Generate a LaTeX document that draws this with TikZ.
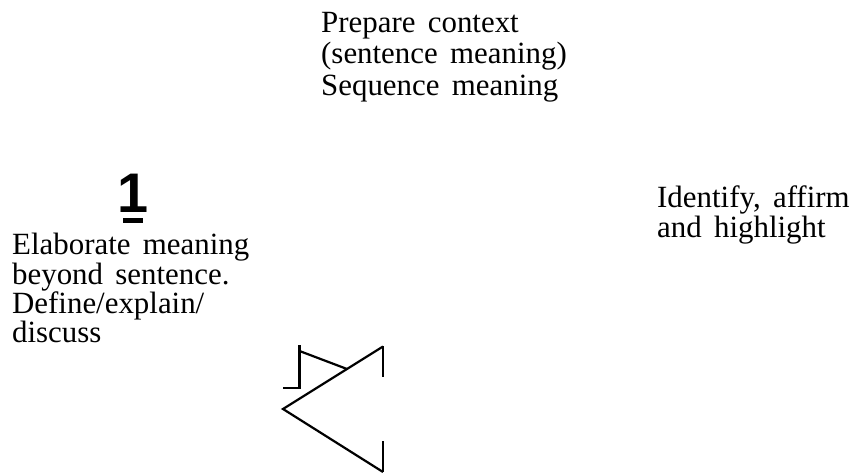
\documentclass[tikz,border=0pt]{standalone}
\usepackage{fontspec}
\usetikzlibrary{calc}
\setmainfont{Liberation Serif}[WordSpace=1.6]
\setsansfont{Liberation Sans}
\begin{document}
\begin{tikzpicture}[x=1bp,y=-1bp,
  txt/.style={anchor=base west, inner sep=0pt, font=\fontsize{31}{31}\selectfont},
  numlabel/.style={anchor=base, inner sep=0pt, font=\fontsize{56}{56}\selectfont\sffamily\bfseries},
  stroke/.style={line width=2.2bp, line cap=butt, line join=miter}]
\useasboundingbox (0,0) rectangle (855,475);
% top block
\node[txt] (t1) at (321,33) {Prepare context};
\node[txt] (t2) at (321,64) {(sentence meaning)};
\node[txt] (t3) at (321,96) {Sequence meaning};
% number
\node[numlabel] (one) at (133,213) {1};
\fill (123,218) rectangle (143,223);
% left block
\node[txt] (l1) at (12,255) {Elaborate meaning};
\node[txt] (l2) at (12,284.5) {beyond sentence.};
\node[txt] (l3) at (12,314) {Define/explain/};
\node[txt] (l4) at (12,343) {discuss};
% right block
\node[txt] (r1) at (657,208) {Identify, affirm};
\node[txt] (r2) at (657,238) {and highlight};
% shape
\coordinate (stub) at (283,388);
\coordinate (corner) at (299.5,388);
\coordinate (vtop) at (299.5,345);
\coordinate (slant) at (299.5,351);
\coordinate (apex) at (383,346.5);
\coordinate (vertex) at (283,409);
\coordinate (bottom) at (383,472);
\coordinate (rtop) at (383,377);
\coordinate (rbot) at (383,441);
\coordinate (cross) at ($(apex)!0.36!(vertex)$);
\draw[stroke] (stub) -- (corner) -- (vtop);
\draw[stroke] (slant) -- (cross);
\draw[stroke] (apex) -- (vertex) -- (bottom);
\draw[stroke] (apex) -- (rtop);
\draw[stroke] (rbot) -- (bottom);
\end{tikzpicture}
\end{document}
